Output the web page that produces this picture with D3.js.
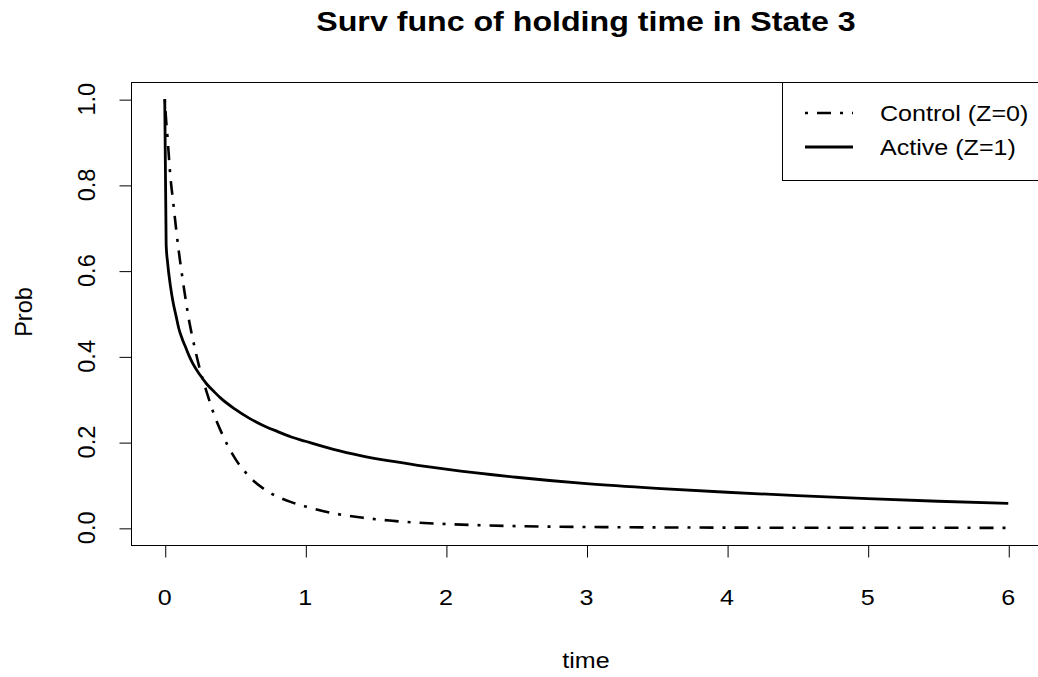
<!DOCTYPE html>
<html>
<head>
<meta charset="utf-8">
<script src="https://cdn.jsdelivr.net/npm/d3@7"></script>
<style>
  html, body { margin: 0; padding: 0; background: #fff; }
  svg { display: block; }
  text { font-family: "Liberation Sans", Arial, sans-serif; fill: #000; }
</style>
</head>
<body>
<svg id="chart" width="1038" height="677"></svg>
<script>
// ---- data ----
const times = [0, 0.01, 0.02, 0.04, 0.06, 0.08, 0.1, 0.125, 0.15, 0.175, 0.2, 0.25, 0.3, 0.35, 0.4, 0.5, 0.6, 0.7, 0.8, 0.9, 1.0, 1.2, 1.4, 1.6, 1.8, 2.0, 2.5, 3.0, 3.5, 4.0, 4.5, 5.0, 5.5, 6.0];
const controlProb = [1.0, 0.95, 0.91, 0.82, 0.76, 0.70, 0.645, 0.585, 0.53, 0.48, 0.44, 0.37, 0.315, 0.265, 0.225, 0.162, 0.12, 0.092, 0.073, 0.06, 0.05, 0.034, 0.024, 0.017, 0.012, 0.009, 0.004, 0.002, 0.001, 0.0005, 0.0003, 0.0001, 0.0001, 0.0];
const activeProb = [1.0, 0.66, 0.62, 0.565, 0.525, 0.495, 0.465, 0.44, 0.42, 0.40, 0.383, 0.357, 0.335, 0.318, 0.302, 0.277, 0.256, 0.239, 0.225, 0.212, 0.202, 0.183, 0.168, 0.156, 0.146, 0.137, 0.118, 0.103, 0.092, 0.083, 0.075, 0.068, 0.062, 0.057];
const xTicks = [0, 1, 2, 3, 4, 5, 6];
const yTicks = [0, 0.2, 0.4, 0.6, 0.8, 1.0];
const seriesNames = ["Control (Z=0)", "Active (Z=1)"];
const titleText = "Surv func of holding time in State 3";
const xLabel = "time";
const yLabel = "Prob";

// ---- layout ----
const svg = d3.select("#chart");
const pLeft = 131, pRight = 1042, pTop = 82, pBottom = 545;
const x = d3.scaleLinear().domain([-0.24, 6.24]).range([pLeft, pRight]);
const y = d3.scaleLinear().domain([-0.04, 1.04]).range([pBottom, pTop]);
const fs = 22, sx = 1.14;      // horizontal text
const fsr = 23.5, sxr = 1.05;  // rotated text

// box
svg.append("rect").attr("x", pLeft + 0.5).attr("y", pTop + 0.5)
  .attr("width", pRight - pLeft).attr("height", pBottom - pTop)
  .attr("fill", "none").attr("stroke", "#000").attr("stroke-width", 1);

// axes
const xAxis = d3.axisBottom(x).tickValues(xTicks).tickSize(12).tickFormat("");
svg.append("g").attr("transform", `translate(0.5,${pBottom + 0.5})`).call(xAxis)
  .call(g => g.select(".domain").remove())
  .call(g => g.selectAll("line").attr("stroke", "#000"));
const yAxis = d3.axisLeft(y).tickValues(yTicks).tickSize(12).tickFormat("");
svg.append("g").attr("transform", `translate(${pLeft + 0.5},0.5)`).call(yAxis)
  .call(g => g.select(".domain").remove())
  .call(g => g.selectAll("line").attr("stroke", "#000"));

// x tick labels
svg.selectAll(".xl").data(xTicks).enter().append("text")
  .attr("transform", d => `translate(${x(d)},605) scale(${sx},1)`)
  .attr("text-anchor", "middle").attr("font-size", fs).text(d => d3.format("d")(d));
// y tick labels (rotated)
svg.selectAll(".yl").data(yTicks).enter().append("text")
  .attr("transform", d => `translate(95,${y(d)}) scale(${sxr},1) rotate(-90)`)
  .attr("text-anchor", "middle").attr("font-size", fsr).text(d => d3.format(".1f")(d));

// axis titles
svg.append("text").attr("transform", `translate(586,668) scale(${sx},1)`)
  .attr("text-anchor", "middle").attr("font-size", fs).text(xLabel);
svg.append("text").attr("transform", `translate(32,312) scale(${sxr},1) rotate(-90)`)
  .attr("text-anchor", "middle").attr("font-size", fsr).text(yLabel);

// main title
svg.append("text").attr("transform", `translate(586,31) scale(1.17,1)`)
  .attr("text-anchor", "middle").attr("font-size", 27.5).attr("font-weight", "bold").text(titleText);

// curves
const line = d3.line().x((d, i) => x(times[i])).y(d => y(d)).curve(d3.curveMonotoneX);
const styles = [
  { dash: "3,9,14,9", width: 2.6 },
  { dash: null, width: 2.8 }
];
[controlProb, activeProb].forEach((vals, k) => {
  svg.append("path").datum(vals).attr("d", line)
    .attr("fill", "none").attr("stroke", "#000")
    .attr("stroke-width", styles[k].width)
    .attr("stroke-dasharray", styles[k].dash)
    .attr("stroke-linejoin", "round");
});

// legend
const lg = svg.append("g");
lg.append("rect").attr("x", 782.5).attr("y", pTop + 0.5).attr("width", 270).attr("height", 98)
  .attr("fill", "#fff").attr("stroke", "#000").attr("stroke-width", 1);
const legY = [113, 147];
seriesNames.forEach((name, k) => {
  lg.append("line").attr("x1", 805).attr("x2", 853).attr("y1", legY[k]).attr("y2", legY[k])
    .attr("stroke", "#000").attr("stroke-width", styles[k].width)
    .attr("stroke-dasharray", styles[k].dash);
  lg.append("text").attr("transform", `translate(880,${legY[k] + 8}) scale(${sx},1)`)
    .attr("font-size", fs).text(name);
});
</script>
</body>
</html>
